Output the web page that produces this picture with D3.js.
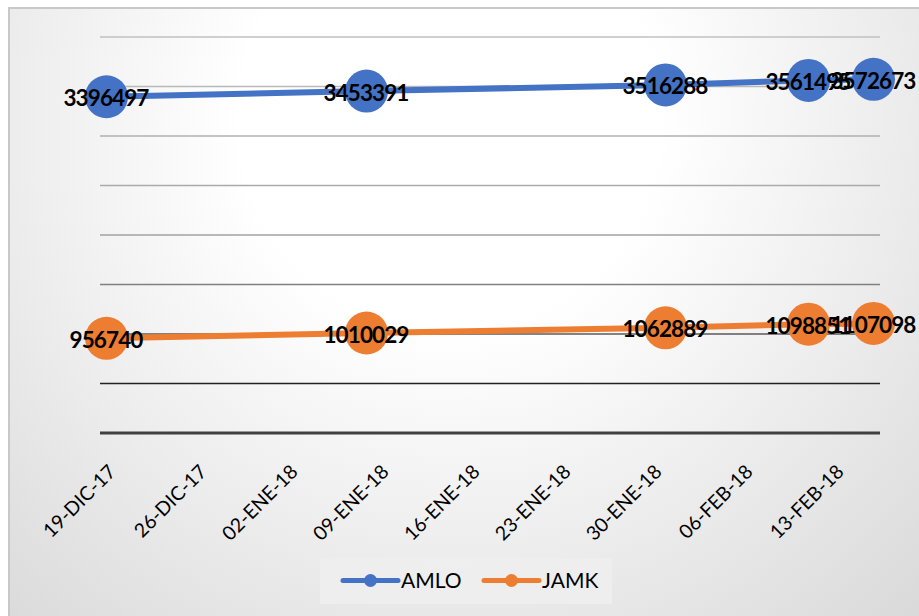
<!DOCTYPE html>
<html>
<head>
<meta charset="utf-8">
<script src="https://cdn.jsdelivr.net/npm/d3@7"></script>
<style>
  html, body { margin: 0; padding: 0; background: #ffffff; }
  svg { display: block; }
</style>
</head>
<body>
<div id="chart"></div>
<script>
// Weekly counts for two candidates
const dates = ["2017-12-19", "2018-01-08", "2018-01-31", "2018-02-11", "2018-02-16"];
const amlo = [3396497, 3453391, 3516288, 3561495, 3572673];
const jamk = [956740, 1010029, 1062889, 1098851, 1107098];
const seriesNames = ["AMLO", "JAMK"];
const tickDates = ["2017-12-19", "2017-12-26", "2018-01-02", "2018-01-09", "2018-01-16",
                   "2018-01-23", "2018-01-30", "2018-02-06", "2018-02-13"];
const tickLabels = ["19-DIC-17", "26-DIC-17", "02-ENE-18", "09-ENE-18", "16-ENE-18",
                    "23-ENE-18", "30-ENE-18", "06-FEB-18", "13-FEB-18"];
const yTicks = [0, 500000, 1000000, 1500000, 2000000, 2500000, 3000000, 3500000, 4000000];

const W = 919, H = 616;
const colors = { AMLO: "#4472c4", JAMK: "#ed7d31" };
const parse = d3.utcParse("%Y-%m-%d");

const svg = d3.select("#chart").append("svg").attr("width", W).attr("height", H);

// chart area background: soft radial shading
const defs = svg.append("defs");
const grad = defs.append("radialGradient").attr("id", "bg")
  .attr("gradientUnits", "userSpaceOnUse")
  .attr("cx", 450).attr("cy", 120).attr("r", 700);
grad.append("stop").attr("offset", 0).attr("stop-color", "#ffffff");
grad.append("stop").attr("offset", 0.3).attr("stop-color", "#ffffff");
grad.append("stop").attr("offset", 1).attr("stop-color", "#d8d8d8");

svg.append("rect").attr("x", 9).attr("y", 8).attr("width", 930).attr("height", 630)
  .attr("fill", "url(#bg)").attr("stroke", "#c8c8c8").attr("stroke-width", 2);

const plot = { left: 100, right: 880, top: 37, bottom: 433 };

// date axis, one slot per day, points centred in their day
const x = d3.scaleUtc()
  .domain([d3.utcHour.offset(parse(dates[0]), -12), d3.utcHour.offset(parse("2018-02-16"), 12)])
  .range([plot.left, plot.right]);
const y = d3.scaleLinear().domain([0, 4000000]).range([plot.bottom, plot.top]);

// horizontal gridlines, darker toward the base
const gridColor = d3.scaleLinear().domain([500000, 1000000, 1500000, 2000000, 4000000])
  .range(["#222222", "#5a5a5a", "#808080", "#a2a2a2", "#c0c0c0"]);

const grid = svg.append("g");
grid.selectAll("line").data(yTicks.filter(v => v > 0)).join("line")
  .attr("x1", plot.left).attr("x2", plot.right)
  .attr("y1", d => y(d)).attr("y2", d => y(d))
  .attr("stroke", d => gridColor(d)).attr("stroke-width", 1.6);

// base axis line
const xAxis = d3.axisBottom(x)
  .tickValues(tickDates.map(parse))
  .tickSize(0)
  .tickFormat((d, i) => tickLabels[i]);

const gx = svg.append("g").attr("transform", `translate(0,${plot.bottom})`).call(xAxis);
gx.select(".domain").attr("stroke", "#404040").attr("stroke-width", 3.2)
  .attr("d", `M${plot.left},0H${plot.right}`);
gx.selectAll(".tick text")
  .attr("font-family", "Lato, 'Open Sans', sans-serif")
  .attr("font-size", 19.5)
  .attr("fill", "#000")
  .attr("text-anchor", "end")
  .attr("dy", null).attr("y", null)
  .attr("transform", "translate(10,40) rotate(-45)");

// series lines, markers and value labels
const series = [
  { name: seriesNames[0], values: amlo },
  { name: seriesNames[1], values: jamk }
];

const line = d3.line().x(d => x(d.date)).y(d => y(d.value));

series.forEach(s => {
  const pts = dates.map((d, i) => ({ date: parse(d), value: s.values[i] }));
  const g = svg.append("g");
  g.append("path").datum(pts)
    .attr("d", line).attr("fill", "none")
    .attr("stroke", colors[s.name]).attr("stroke-width", 6)
    .attr("stroke-linecap", "round");
  g.selectAll("circle").data(pts).join("circle")
    .attr("cx", d => x(d.date)).attr("cy", d => y(d.value))
    .attr("r", 21.5).attr("fill", colors[s.name]);
  g.selectAll("text").data(pts).join("text")
    .attr("x", d => x(d.date) - 0.5).attr("y", d => y(d.value) + 9.5)
    .attr("text-anchor", "middle")
    .attr("font-family", "Lato, 'Open Sans', sans-serif")
    .attr("font-weight", 700).attr("font-size", 22.5)
    .attr("letter-spacing", "-0.9px")
    .attr("fill", "#000")
    .text(d => d.value);
});

// legend
const lg = svg.append("g");
lg.append("rect").attr("x", 320).attr("y", 558).attr("width", 292).attr("height", 46)
  .attr("fill", "#efefef").attr("fill-opacity", 0.85);
const legendItems = [
  { name: seriesNames[0], x0: 343 },
  { name: seriesNames[1], x0: 484 }
];
legendItems.forEach(it => {
  lg.append("line").attr("x1", it.x0).attr("x2", it.x0 + 55)
    .attr("y1", 580.5).attr("y2", 580.5)
    .attr("stroke", colors[it.name]).attr("stroke-width", 5).attr("stroke-linecap", "round");
  lg.append("circle").attr("cx", it.x0 + 27.5).attr("cy", 580.5).attr("r", 6.5)
    .attr("fill", colors[it.name]);
  lg.append("text").attr("x", it.x0 + 58).attr("y", 587.5)
    .attr("font-family", "Lato, 'Open Sans', sans-serif")
    .attr("font-size", 21).attr("fill", "#000")
    .text(it.name);
});
</script>
</body>
</html>
